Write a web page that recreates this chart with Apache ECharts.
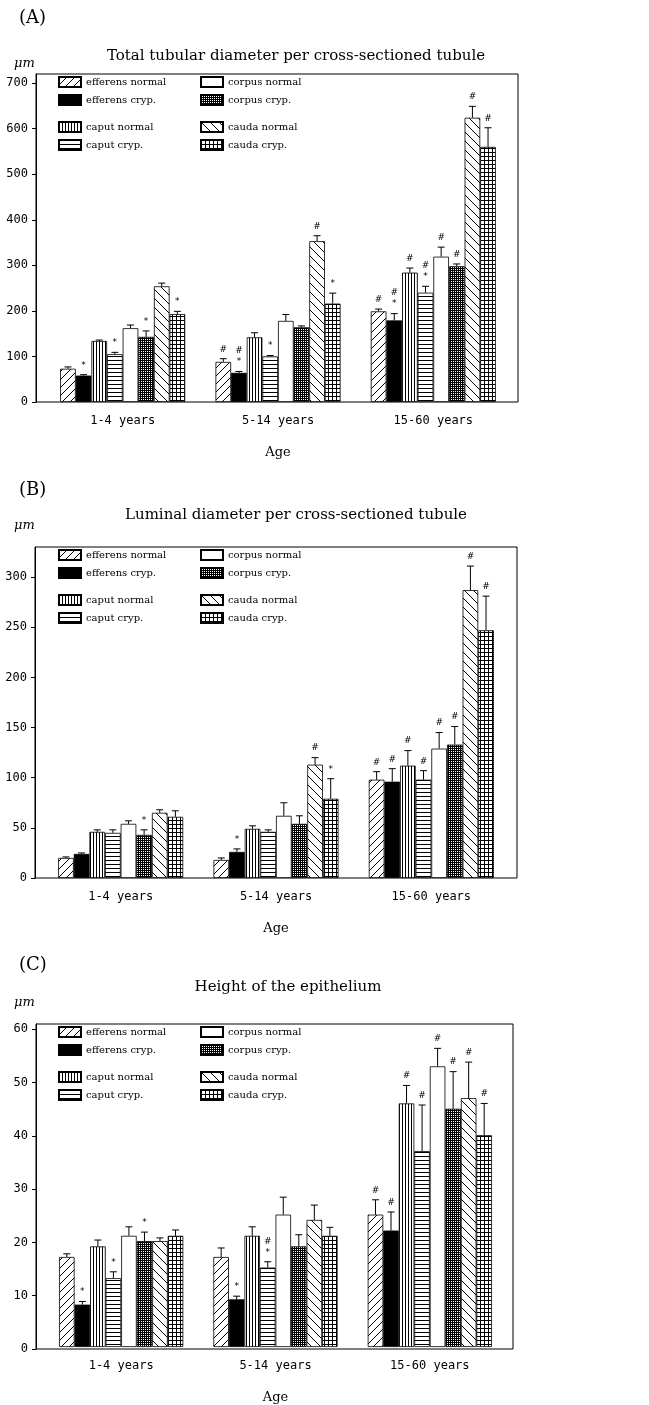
<!DOCTYPE html>
<html><head><meta charset="utf-8">
<script src="https://cdn.jsdelivr.net/npm/echarts@6/dist/echarts.min.js"></script>
<style>html,body{margin:0;padding:0;background:#fff}#c{width:649px;height:1405px}</style>
</head><body><div id="c"></div>
<script>
// ---------- DATA ----------
const categories = ['1-4 years', '5-14 years', '15-60 years'];
const seriesNames = ['efferens normal', 'efferens cryp.', 'caput normal', 'caput cryp.',
                     'corpus normal', 'corpus cryp.', 'cauda normal', 'cauda cryp.'];

// Panel A: total tubular diameter (µm), mean and SD per series, categories in order
const A_effNorm = [73, 88, 199];   const A_effNorm_sd = [4, 7, 5];
const A_effCryp = [58, 64, 179];   const A_effCryp_sd = [2, 3, 15];
const A_capNorm = [134, 142, 284]; const A_capNorm_sd = [2, 10, 10];
const A_capCryp = [105, 100, 240]; const A_capCryp_sd = [4, 2, 14];
const A_corNorm = [162, 178, 319]; const A_corNorm_sd = [7, 14, 21];
const A_corCryp = [143, 164, 298]; const A_corCryp_sd = [13, 3, 5];
const A_cauNorm = [254, 353, 624]; const A_cauNorm_sd = [7, 12, 25];
const A_cauCryp = [193, 216, 560]; const A_cauCryp_sd = [6, 23, 42];
const A_marks = [['', '*', '', '*', '', '*', '', '*'],
                 ['#', '#\n*', '', '*', '', '', '#', '*'],
                 ['#', '#\n*', '#', '#\n*', '#', '#', '#', '#']];

// Panel B: luminal diameter (µm)
const B_effNorm = [20, 18, 98];    const B_effNorm_sd = [1, 2, 8];
const B_effCryp = [24, 26, 96];    const B_effCryp_sd = [1, 3, 13];
const B_capNorm = [46, 49, 112];   const B_capNorm_sd = [2, 3, 15];
const B_capCryp = [45, 46, 98];    const B_capCryp_sd = [3, 2, 9];
const B_corNorm = [54, 62, 129];   const B_corNorm_sd = [3, 13, 16];
const B_corCryp = [43, 54, 133];   const B_corCryp_sd = [5, 8, 18];
const B_cauNorm = [65, 113, 287];  const B_cauNorm_sd = [3, 7, 24];
const B_cauCryp = [61, 79, 247];   const B_cauCryp_sd = [6, 20, 34];
const B_marks = [['', '', '', '', '', '*', '', ''],
                 ['', '*', '', '', '', '', '#', '*'],
                 ['#', '#', '#', '#', '#', '#', '#', '#']];

// Panel C: height of the epithelium (µm)
const C_effNorm = [17, 17, 25];    const C_effNorm_sd = [0.6, 1.7, 2.8];
const C_effCryp = [8, 9, 22];      const C_effCryp_sd = [0.6, 0.6, 3.5];
const C_capNorm = [19, 21, 46];    const C_capNorm_sd = [1.2, 1.7, 3.4];
const C_capCryp = [13, 15, 37];    const C_capCryp_sd = [1.2, 1.1, 8.7];
const C_corNorm = [21, 25, 53];    const C_corNorm_sd = [1.7, 3.3, 3.4];
const C_corCryp = [20, 19, 45];    const C_corCryp_sd = [1.7, 2.2, 7];
const C_cauNorm = [20, 24, 47];    const C_cauNorm_sd = [0.6, 2.8, 6.8];
const C_cauCryp = [21, 21, 40];    const C_cauCryp_sd = [1.1, 1.6, 6];
const C_marks = [['', '*', '', '*', '', '*', '', ''],
                 ['', '*', '', '#\n*', '', '', '', ''],
                 ['#', '#', '#', '#', '#', '#', '#', '#']];

// ---------- PATTERNS ----------
function tile(w, h, draw, bg) {
  const c = document.createElement('canvas'); c.width = w; c.height = h;
  const g = c.getContext('2d');
  g.fillStyle = bg || '#fff'; g.fillRect(0, 0, w, h);
  g.strokeStyle = '#000'; g.fillStyle = '#000'; g.lineWidth = 1;
  draw(g, w, h);
  return { image: c, repeat: 'repeat' };
}
const patSlash = tile(8, 8, (g, w, h) => { g.beginPath(); for (const k of [-w, 0, w]) { g.moveTo(k, h); g.lineTo(k + w, 0); } g.stroke(); });
const patBack = tile(9, 9, (g, w, h) => { g.beginPath(); for (const k of [-w, 0, w]) { g.moveTo(k, 0); g.lineTo(k + w, h); } g.stroke(); });
const patVert = tile(3, 4, (g, w, h) => { g.fillRect(0, 0, 1, h); });
const patHorz = tile(4, 4, (g, w, h) => { g.fillRect(0, 0, w, 1); });
const patGrid = tile(4, 4, (g, w, h) => { g.fillRect(0, 0, w, 1); g.fillRect(0, 0, 1, h); });
const patCheck = tile(2, 2, (g) => { g.fillStyle = '#fff'; g.fillRect(1, 1, 1, 1); }, '#000');
const fills = [patSlash, '#000', patVert, patHorz, '#fff', patCheck, patBack, patGrid];

// ---------- BUILD ----------
const SERIF = 'DejaVu Serif';
const MONO = 'DejaVu Sans Mono';
const option = { animation: false, backgroundColor: '#fff', title: [], legend: [], grid: [], xAxis: [], yAxis: [], series: [] };

function panel(p) {
  const gi = option.grid.length;
  // frame grid (axis + border)
  option.grid.push({ left: p.frame[0], top: p.frame[1], width: p.frame[2], height: p.frame[3], show: true, borderColor: '#000', borderWidth: 1, containLabel: false });
  option.xAxis.push({ gridIndex: gi, type: 'category', data: categories, show: false });
  option.yAxis.push({ gridIndex: gi, type: 'value', min: 0, max: p.max, interval: p.interval,
    axisLine: { show: true, lineStyle: { color: '#000', width: 1 } },
    axisTick: { show: true, length: 4, lineStyle: { color: '#000' } },
    splitLine: { show: false },
    axisLabel: { color: '#000', fontFamily: MONO, fontSize: 12, margin: 8, showMaxLabel: p.max % p.interval === 0 } });
  // bars grid
  option.grid.push({ left: p.bars[0], top: p.frame[1], width: p.bars[1], height: p.frame[3], show: false });
  option.xAxis.push({ gridIndex: gi + 1, type: 'category', data: categories,
    axisLine: { show: false }, axisTick: { show: false },
    axisLabel: { color: '#000', fontFamily: MONO, fontSize: 12, margin: 13 },
    name: 'Age', nameLocation: 'middle', nameGap: 44,
    nameTextStyle: { color: '#000', fontFamily: SERIF, fontSize: 13 } });
  option.yAxis.push({ gridIndex: gi + 1, type: 'value', min: 0, max: p.max, show: false });

  const gap = 0.195;
  p.vals.forEach((v, s) => {
    option.series.push({ type: 'bar', name: seriesNames[s], xAxisIndex: gi + 1, yAxisIndex: gi + 1,
      data: v, barGap: '0%', barCategoryGap: (gap * 100) + '%',
      itemStyle: { color: fills[s], borderColor: '#000', borderWidth: 0.8 } });
  });
  // error bars + significance marks
  const rows = [], marks = [];
  for (let s = 0; s < 8; s++) for (let c = 0; c < 3; c++) {
    rows.push([c, p.vals[s][c], p.vals[s][c] + p.sds[s][c], s]);
    marks.push(p.marks[c][s]);
  }
  option.series.push({ type: 'custom', xAxisIndex: gi + 1, yAxisIndex: gi + 1, silent: true, z: 10,
    data: rows, encode: { x: 0, y: [1, 2] },
    renderItem: function (params, api) {
      const c = api.value(0), v = api.value(1), t = api.value(2), s = api.value(3);
      const band = api.size([1, 0])[0];
      const gw = band * (1 - gap), bw = gw / 8;
      const cx = api.coord([c, 0])[0] - gw / 2 + (s + 0.5) * bw;
      const y0 = api.coord([c, v])[1], y1 = api.coord([c, t])[1];
      const ch = [
        { type: 'line', shape: { x1: cx, y1: y0, x2: cx, y2: y1 }, style: { stroke: '#000', lineWidth: 1 } },
        { type: 'line', shape: { x1: cx - 3.5, y1: y1, x2: cx + 3.5, y2: y1 }, style: { stroke: '#000', lineWidth: 1 } }
      ];
      const mk = marks[params.dataIndex];
      if (mk) ch.push({ type: 'text', style: { text: mk, x: cx, y: y1 - 4, align: 'center', verticalAlign: 'bottom',
        font: '9px DejaVu Sans', fill: '#000', lineHeight: 11 } });
      return { type: 'group', children: ch };
    } });

  // legends: 4 blocks of two
  const top = p.frame[1];
  const blocks = [[0, 1, 58, top + 2], [2, 3, 58, top + 47], [4, 5, 200, top + 2], [6, 7, 200, top + 47]];
  blocks.forEach(b => option.legend.push({ data: [seriesNames[b[0]], seriesNames[b[1]]], orient: 'vertical',
    left: b[2], top: b[3], itemWidth: 22, itemHeight: 10, itemGap: 6, icon: 'rect', selectedMode: false,
    textStyle: { color: '#000', fontFamily: SERIF, fontSize: 10 }, padding: 0 }));

  // titles
  option.title.push({ text: p.tag, left: 14, top: p.tagTop, textStyle: { fontFamily: SERIF, fontWeight: 'normal', fontSize: 18, color: '#000' } });
  option.title.push({ text: p.title, left: p.titleX, textAlign: 'center', top: p.titleTop, textStyle: { fontFamily: SERIF, fontWeight: 'normal', fontSize: 15, color: '#000' } });
  option.title.push({ text: 'μm', left: 9, top: p.unitTop, textStyle: { fontFamily: SERIF, fontWeight: 'normal', fontStyle: 'italic', fontSize: 13, color: '#000' } });
}

panel({ tag: '(A)', tagTop: 4, title: 'Total tubular diameter per cross-sectioned tubule', titleX: 291, titleTop: 44, unitTop: 52,
  frame: [36, 74, 482, 328], bars: [45, 466], max: 720, interval: 100,
  vals: [A_effNorm, A_effCryp, A_capNorm, A_capCryp, A_corNorm, A_corCryp, A_cauNorm, A_cauCryp],
  sds: [A_effNorm_sd, A_effCryp_sd, A_capNorm_sd, A_capCryp_sd, A_corNorm_sd, A_corCryp_sd, A_cauNorm_sd, A_cauCryp_sd],
  marks: A_marks });
panel({ tag: '(B)', tagTop: 476, title: 'Luminal diameter per cross-sectioned tubule', titleX: 291, titleTop: 503, unitTop: 514,
  frame: [35, 547, 482, 331], bars: [43, 466], max: 330, interval: 50,
  vals: [B_effNorm, B_effCryp, B_capNorm, B_capCryp, B_corNorm, B_corCryp, B_cauNorm, B_cauCryp],
  sds: [B_effNorm_sd, B_effCryp_sd, B_capNorm_sd, B_capCryp_sd, B_corNorm_sd, B_corCryp_sd, B_cauNorm_sd, B_cauCryp_sd],
  marks: B_marks });
panel({ tag: '(C)', tagTop: 951, title: 'Height of the epithelium', titleX: 283, titleTop: 975, unitTop: 991,
  frame: [36, 1024, 477, 325], bars: [44, 463], max: 61, interval: 10,
  vals: [C_effNorm, C_effCryp, C_capNorm, C_capCryp, C_corNorm, C_corCryp, C_cauNorm, C_cauCryp],
  sds: [C_effNorm_sd, C_effCryp_sd, C_capNorm_sd, C_capCryp_sd, C_corNorm_sd, C_corCryp_sd, C_cauNorm_sd, C_cauCryp_sd],
  marks: C_marks });

const chart = echarts.init(document.getElementById('c'), null, { renderer: 'canvas' });
chart.setOption(option);
</script>
</body></html>
